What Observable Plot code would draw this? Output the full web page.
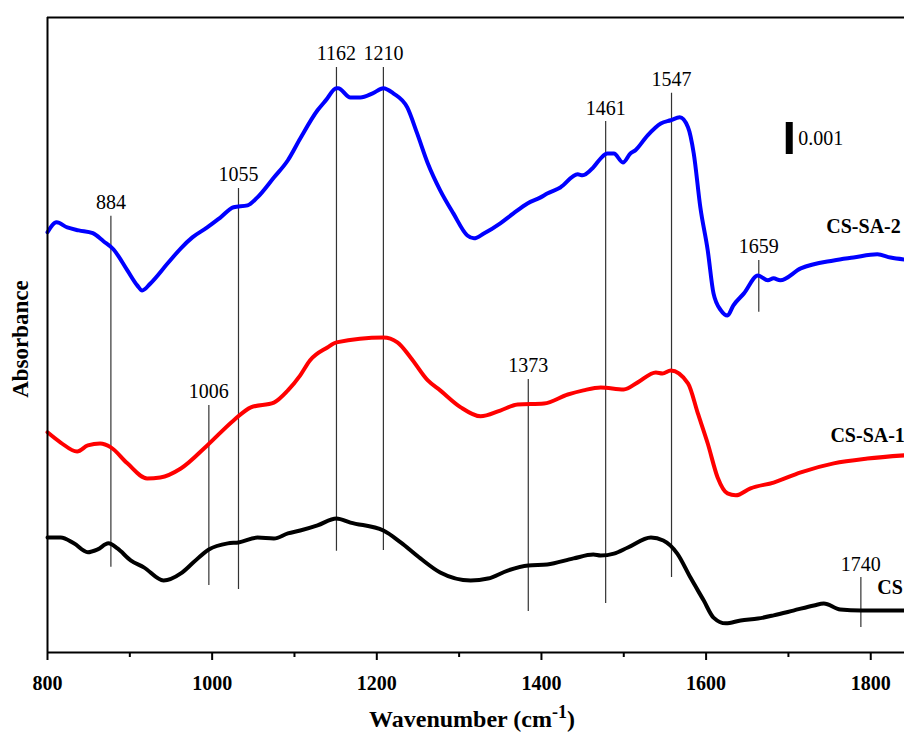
<!DOCTYPE html>
<html><head><meta charset="utf-8">
<script src="https://cdn.jsdelivr.net/npm/d3@7"></script>
<script src="https://cdn.jsdelivr.net/npm/@observablehq/plot@0.6"></script>
<style>html,body{margin:0;padding:0;background:#fff;overflow:hidden}</style>
</head><body><div id="chart"></div>
<script>
// Spectra: [wavenumber (cm-1), absorbance offset in units of 0.001]
const csSa2 = [[800,13.13],[811,13.44],[824,13.28],[838,13.19],[855,13.1],[868,12.85],[880,12.6],[897,11.94],[909,11.47],[915,11.31],[925,11.53],[946,12.16],[962,12.63],[976,12.97],[994,13.28],[1010,13.59],[1026,13.91],[1043,13.97],[1055,14.22],[1075,14.84],[1092,15.38],[1107,16.06],[1128,16.94],[1138,17.25],[1151,17.63],[1153,17.63],[1168,17.34],[1180,17.34],[1195,17.47],[1208,17.63],[1220,17.47],[1237,17.03],[1249,16.22],[1262,15.28],[1277,14.44],[1293,13.72],[1310,13.03],[1318,12.94],[1330,13.09],[1350,13.41],[1366,13.72],[1383,14.03],[1399,14.22],[1407,14.34],[1423,14.53],[1444,14.94],[1450,14.91],[1463,15.16],[1472,15.44],[1480,15.59],[1488,15.59],[1499,15.31],[1508,15.59],[1514,15.69],[1529,16.16],[1545,16.53],[1557,16.63],[1568,16.72],[1578,16.41],[1585,15.59],[1593,13.91],[1602,12.56],[1609,11.22],[1618,10.69],[1626,10.53],[1633,10.84],[1646,11.22],[1663,11.78],[1675,11.63],[1682,11.69],[1690,11.63],[1715,12.0],[1755,12.25],[1779,12.34],[1808,12.44],[1824,12.34],[1841,12.28]];
const csSa1 = [[800,6.88],[816,6.56],[836,6.28],[849,6.47],[864,6.53],[877,6.41],[897,5.91],[921,5.44],[937,5.47],[962,5.75],[994,6.47],[1026,7.25],[1047,7.66],[1075,7.81],[1092,8.19],[1107,8.66],[1119,9.13],[1140,9.53],[1151,9.69],[1208,9.84],[1225,9.69],[1241,9.22],[1262,8.5],[1277,8.19],[1302,7.66],[1326,7.38],[1350,7.56],[1371,7.75],[1403,7.78],[1432,8.06],[1451,8.19],[1472,8.28],[1500,8.22],[1517,8.44],[1539,8.75],[1547,8.72],[1557,8.81],[1578,8.41],[1590,7.47],[1602,6.53],[1614,5.47],[1626,4.97],[1636,4.91],[1654,5.13],[1682,5.31],[1715,5.63],[1755,5.91],[1796,6.06],[1841,6.16]];
const cs = [[800,3.59],[816,3.59],[832,3.41],[849,3.13],[861,3.22],[874,3.41],[885,3.25],[901,2.88],[917,2.66],[941,2.25],[962,2.47],[977,2.81],[996,3.22],[1019,3.41],[1032,3.44],[1055,3.59],[1075,3.56],[1092,3.72],[1107,3.81],[1128,3.97],[1151,4.19],[1168,4.06],[1208,3.81],[1229,3.44],[1253,2.94],[1277,2.5],[1314,2.25],[1335,2.31],[1359,2.56],[1384,2.72],[1407,2.75],[1439,2.94],[1463,3.06],[1472,3.03],[1488,3.09],[1505,3.28],[1533,3.59],[1548,3.5],[1565,3.09],[1581,2.34],[1597,1.63],[1609,1.09],[1624,0.91],[1642,1.0],[1663,1.06],[1682,1.16],[1706,1.31],[1731,1.47],[1743,1.53],[1763,1.34],[1788,1.31],[1841,1.31]];

const seriesNames = ["CS-SA-2", "CS-SA-1", "CS"];
const seriesColors = ["#0000ff", "#ff0000", "#000000"];
const seriesLabelX = [1746, 1751, 1808];
const seriesLabelY = [13.3, 6.78, 2.03];

// Peak markers: label text, wavenumber where the line is drawn, line top and bottom
const markerLabels = ["884", "1006", "1055", "1162", "1210", "1373", "1461", "1547", "1659", "1740"];
const markerWn     = [877, 996, 1032, 1151, 1208, 1384, 1478, 1558, 1664, 1788];
const markerTop    = [13.63, 7.72, 14.5, 18.28, 18.28, 8.53, 16.59, 17.47, 12.25, 2.34];
const markerBottom = [2.66, 2.09, 1.97, 3.16, 3.19, 1.28, 1.53, 2.34, 10.63, 0.78];

// Scale bar (0.001 absorbance)
const scaleBarWn = 1701;
const scaleBarLabelWn = 1712;
const scaleBarY = [15.56, 16.56];
const scaleBarLabel = "0.001";

const xDomain = [800, 1841];
const yDomain = [0, 19.84];
const majorTicks = [800, 1000, 1200, 1400, 1600, 1800];
const minorTicks = [900, 1100, 1300, 1500, 1700];
const xTitle = "Wavenumber (cm-1)";
const yTitle = "Absorbance";

const spectra = [csSa2, csSa1, cs];
const markers = markerLabels.map((t, i) => ({t, x: markerWn[i], y1: markerBottom[i], y2: markerTop[i]}));
const labels = seriesNames.map((n, i) => ({n, x: seriesLabelX[i], y: seriesLabelY[i]}));

const serif = "'Liberation Serif', 'Times New Roman', serif";

const plot = Plot.plot({
  width: 904,
  height: 733,
  marginLeft: 47,
  marginRight: 0,
  marginTop: 17,
  marginBottom: 81,
  style: {fontFamily: serif, fontSize: "20px", background: "white", color: "black"},
  x: {domain: xDomain},
  y: {domain: yDomain, axis: null},
  marks: [
    Plot.ruleX(markers, {x: "x", y1: "y1", y2: "y2", stroke: "#333", strokeWidth: 1.2}),
    Plot.text(markers, {x: "x", y: "y2", text: "t", lineAnchor: "bottom", dy: -7, fontSize: 20, fill: "black"}),
    ...spectra.map((s, i) => Plot.line(s, {x: d => d[0], y: d => d[1], stroke: seriesColors[i], strokeWidth: 4, curve: "monotone-x", strokeLinejoin: "round"})),
    Plot.text(labels, {x: "x", y: "y", text: "n", textAnchor: "start", fontWeight: "bold", fontSize: 20, fill: "black"}),
    Plot.ruleX([scaleBarWn], {y1: scaleBarY[0], y2: scaleBarY[1], stroke: "black", strokeWidth: 7}),
    Plot.text([scaleBarLabel], {x: scaleBarLabelWn, y: (scaleBarY[0] + scaleBarY[1]) / 2, text: d => d, textAnchor: "start", fontSize: 20, fill: "black"}),
    Plot.ruleX([xDomain[0]], {stroke: "black", strokeWidth: 2}),
    Plot.ruleY([yDomain[1]], {stroke: "black", strokeWidth: 2}),
    Plot.ruleY([yDomain[0]], {stroke: "black", strokeWidth: 2}),
    Plot.axisX(majorTicks, {tickSize: 8, tickPadding: 15, strokeWidth: 2, fontWeight: "bold", fontSize: 20, label: null, tickFormat: d => String(d)}),
    Plot.axisX(minorTicks, {tickSize: 5, strokeWidth: 2, label: null, tickFormat: () => ""}),
    Plot.text([xTitle], {frameAnchor: "bottom", textAnchor: "middle", lineAnchor: "bottom", dy: 74, dx: -4, fontWeight: "bold", fontSize: 24, fill: "black"}),
    Plot.text([yTitle], {frameAnchor: "left", textAnchor: "middle", lineAnchor: "middle", rotate: -90, dx: -27, dy: 4, fontWeight: "bold", fontSize: 23, fill: "black"})
  ]
});

// superscript for the x-axis title
d3.select(plot).selectAll("text").filter(function() { return this.textContent === xTitle; }).each(function() {
  const t = d3.select(this);
  t.text(null);
  t.append("tspan").text("Wavenumber (cm");
  t.append("tspan").attr("dy", "-0.45em").attr("font-size", "0.75em").text("-1");
  t.append("tspan").attr("dy", "0.34em").text(")");
});

document.getElementById("chart").appendChild(plot);
</script>
</body></html>
